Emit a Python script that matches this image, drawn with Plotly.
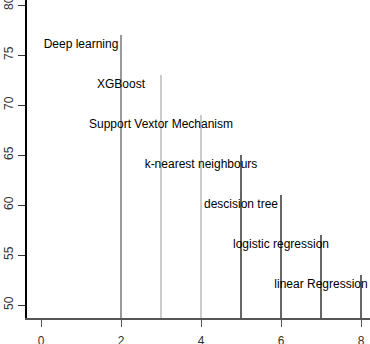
import plotly.graph_objects as go

models = ["Deep learning", "XGBoost", "Support Vextor Mechanism", "k-nearest neighbours",
          "descision tree", "logistic regression", "linear Regression"]
positions = [2, 3, 4, 5, 6, 7, 8]
accuracy = [77, 73, 69, 65, 61, 57, 53]
line_colors = ["#555555", "#aaaaaa", "#aaaaaa", "#000000", "#000000", "#000000", "#000000"]
x_ticks = [0, 2, 4, 6, 8]
y_ticks = [50, 55, 60, 65, 70, 75, 80]

fig = go.Figure()
for xp, val, col in zip(positions, accuracy, line_colors):
    fig.add_trace(go.Scatter(x=[xp, xp], y=[0, val], mode="lines",
                             line=dict(color=col, width=1.2), showlegend=False, hoverinfo="skip"))

fig.add_trace(go.Scatter(x=[p - 1 for p in positions], y=[a - 1 for a in accuracy],
                         mode="text", text=models, textposition="middle center",
                         textfont=dict(family="Liberation Sans, Arial", size=12, color="black"),
                         showlegend=False, cliponaxis=False, hoverinfo="skip"))

fig.update_layout(
    width=370, height=344,
    margin=dict(l=27, r=0, t=0, b=26, autoexpand=False),
    paper_bgcolor="white", plot_bgcolor="white",
    font=dict(family="Liberation Sans, Arial", size=12, color="#333333"),
)
fig.update_xaxes(range=[-0.35, 8.225], tickvals=x_ticks, ticks="outside", ticklen=7,
                 tickcolor="#555555", showline=True, linecolor="#555555", linewidth=1.5,
                 showgrid=False, zeroline=False, automargin=False,
                 ticklabeloverflow="allow", ticklabelstandoff=4,
                 tickfont=dict(size=12, color="#333333"))
fig.update_yaxes(range=[48.7, 80.5], tickvals=y_ticks, ticks="outside", ticklen=7,
                 tickcolor="#333333", showline=True, linecolor="black", linewidth=1.5,
                 showgrid=False, zeroline=False, tickangle=-90, automargin=False,
                 ticklabeloverflow="allow",
                 tickfont=dict(size=12, color="#333333"))

fig.write_html("out.html", config={"displayModeBar": False},
               post_script="document.body.style.margin='0px';document.body.style.overflow='hidden';")
